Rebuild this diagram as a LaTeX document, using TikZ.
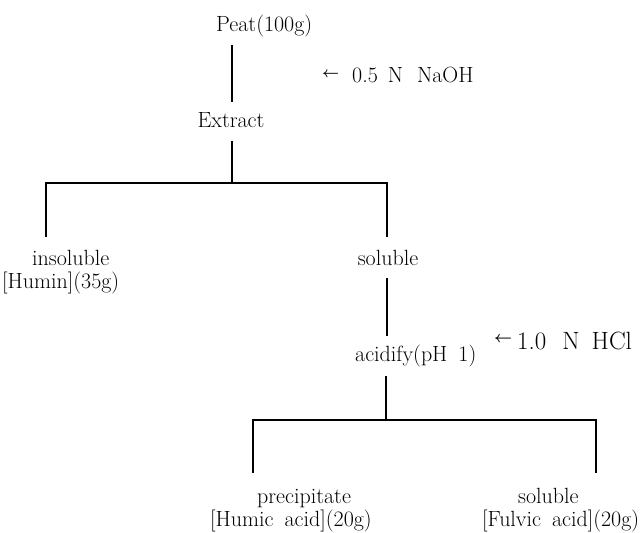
\documentclass[tikz,border=0pt]{standalone}
\begin{document}
\begin{tikzpicture}[x=1pt,y=-1pt,
  lbl/.style={inner sep=0pt, font=\fontsize{22}{26}\selectfont},
  ln/.style={line width=1.3pt}]
\useasboundingbox (0,0) rectangle (643,533);
% text nodes
\node[lbl,anchor=base west] (peat) at (216,31) {Peat(100g)};
\node[lbl,anchor=base west] (naoh) at (322,82)
  {\raisebox{5pt}{\resizebox{17pt}{!}{\boldmath$\leftarrow$}}\hspace{13pt}0.5\hspace{10pt}N\hspace{14pt}NaOH};
\node[lbl,anchor=base] (extract) at (231,127) {Extract};
\node[lbl,anchor=base west] (insol) at (32,265) {insoluble};
\node[lbl,anchor=base west] (humin) at (2,288) {[Humin](35g)};
\node[lbl,anchor=base] (sol) at (388,265) {soluble};
\node[lbl,anchor=base west] (acid) at (355,361) {acidify(pH\hspace{0.5em}1)};
\node[lbl,anchor=base west] (hcl) at (494,349)
  {\raisebox{7pt}{\resizebox{18pt}{!}{\boldmath$\leftarrow$}}\hspace{5pt}{\fontsize{25}{30}\selectfont 1.0\hspace{16pt}N\hspace{12pt}HCl}};
\node[lbl,anchor=base west] (prec) at (257,503) {precipitate};
\node[lbl,anchor=base west] (humic) at (210,526) {[Humic\hspace{0.5em}acid](20g)};
\node[lbl,anchor=base west] (sol2) at (518,503) {soluble};
\node[lbl,anchor=base west] (fulvic) at (482,526) {[Fulvic\hspace{0.5em}acid](20g)};
% connector points
\coordinate (s1a) at (232,45);
\coordinate (s1b) at (232,102);
\coordinate (s2a) at (232,141);
\coordinate (j1) at (232,183);
\coordinate (j1l) at (46,183);
\coordinate (j1r) at (387,183);
\coordinate (l1) at (46,237);
\coordinate (r1) at (387,237);
\coordinate (s3a) at (387,278);
\coordinate (s3b) at (387,336);
\coordinate (s4a) at (386,376);
\coordinate (j2) at (386,420);
\coordinate (j2l) at (253,420);
\coordinate (j2r) at (596,420);
\coordinate (l2) at (253,473);
\coordinate (r2) at (596,473);
% connectors
\draw[ln] (s1a) -- (s1b);
\draw[ln] (s2a) -- (j1);
\draw[ln] (l1) -- (j1l) -- (j1r) -- (r1);
\draw[ln] (s3a) -- (s3b);
\draw[ln] (s4a) -- (j2);
\draw[ln] (l2) -- (j2l) -- (j2r) -- (r2);
\end{tikzpicture}
\end{document}
